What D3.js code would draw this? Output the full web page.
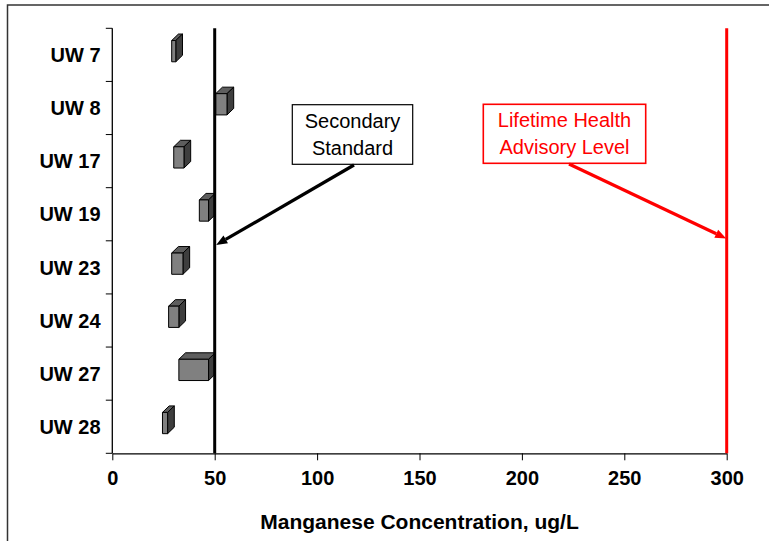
<!DOCTYPE html>
<html>
<head>
<meta charset="utf-8">
<script src="https://cdn.jsdelivr.net/npm/d3@7"></script>
<style>
  html, body { margin: 0; padding: 0; background: #fff; }
  svg { display: block; font-family: "Liberation Sans", Arial, Helvetica, sans-serif; }
</style>
</head>
<body>
<svg id="chart" width="769" height="541"></svg>
<script>
// ---- data ----
const categories = ["UW 7", "UW 8", "UW 17", "UW 19", "UW 23", "UW 24", "UW 27", "UW 28"];
const minValues  = [29, 50.5, 30, 42.5, 29, 27.5, 32.5, 24.5];
const maxValues  = [31, 56, 35, 47, 34.5, 32.5, 47, 27];
const xTicks     = [0, 50, 100, 150, 200, 250, 300];
const refValues  = [50, 300];
const refLabels  = [["Secondary", "Standard"], ["Lifetime Health", "Advisory Level"]];
const xTitle     = "Manganese Concentration, ug/L";

// ---- layout ----
const svg = d3.select("#chart");
const plot = { left: 112.3, right: 726.7, top: 28.3, bottom: 453.3 };
const x = d3.scaleLinear().domain([0, 300]).range([plot.left, plot.right]);
const y = d3.scaleBand().domain(categories).range([plot.top, plot.bottom]);

// outer frame
svg.append("rect").attr("x", 7.5).attr("y", 5).attr("width", 900).attr("height", 900)
  .attr("fill", "none").attr("stroke", "#333").attr("stroke-width", 1.5);

// x axis
const xAxis = svg.append("g").attr("transform", `translate(0,${plot.bottom})`)
  .call(d3.axisBottom(x).tickValues(xTicks).tickSize(7).tickSizeOuter(0).tickPadding(11));
xAxis.select(".domain").attr("stroke", "#000").attr("stroke-width", 1.3);
xAxis.selectAll(".tick line").attr("stroke", "#000").attr("stroke-width", 1);
xAxis.selectAll(".tick text").attr("font-size", 20).attr("font-weight", "bold")
  .attr("fill", "#000").attr("font-family", "Liberation Sans, Arial, sans-serif");

// y axis: line + ticks at category boundaries + labels
const yG = svg.append("g");
yG.append("line").attr("x1", plot.left).attr("x2", plot.left)
  .attr("y1", plot.top).attr("y2", plot.bottom).attr("stroke", "#000").attr("stroke-width", 1.3);
const boundaries = categories.map(c => y(c)).concat([y.range()[1]]);
yG.selectAll("line.tk").data(boundaries).join("line").attr("class", "tk")
  .attr("x1", plot.left - 6.5).attr("x2", plot.left)
  .attr("y1", d => d).attr("y2", d => d).attr("stroke", "#000").attr("stroke-width", 1);
yG.selectAll("text").data(categories).join("text")
  .attr("x", 100.5).attr("y", d => y(d) + y.bandwidth() / 2)
  .attr("dy", "0.36em").attr("text-anchor", "end")
  .attr("font-size", 20).attr("font-weight", "bold").attr("fill", "#000")
  .text(d => d);

// x title
svg.append("text").attr("x", (plot.left + plot.right) / 2).attr("y", 529)
  .attr("text-anchor", "middle").attr("font-size", 21).attr("font-weight", "bold")
  .attr("fill", "#000").text(xTitle);

// ---- 3D floating bars ----
const dx = 6.7, dy = 6.5;
const h = y.bandwidth() * 0.4;
const bars = svg.append("g");
categories.forEach((c, i) => {
  const x0 = x(minValues[i]), x1 = x(maxValues[i]);
  const y0 = y(c) + y.bandwidth() / 2 - 3.7 - h / 2;
  const g = bars.append("g").attr("stroke", "#000").attr("stroke-width", 1).attr("stroke-linejoin", "round");
  g.append("polygon").attr("fill", "#5e5e5e")
    .attr("points", [[x0, y0], [x0 + dx, y0 - dy], [x1 + dx, y0 - dy], [x1, y0]].join(" "));
  g.append("polygon").attr("fill", "#3e3e3e")
    .attr("points", [[x1, y0], [x1 + dx, y0 - dy], [x1 + dx, y0 - dy + h], [x1, y0 + h]].join(" "));
  g.append("rect").attr("fill", "#808080")
    .attr("x", x0).attr("y", y0).attr("width", x1 - x0).attr("height", h);
});

// ---- reference lines ----
const refColors = ["#000", "#ff0000"];
refValues.forEach((v, i) => {
  svg.append("line").attr("x1", x(v)).attr("x2", x(v))
    .attr("y1", plot.top).attr("y2", plot.bottom)
    .attr("stroke", refColors[i]).attr("stroke-width", 3);
});

// ---- annotations ----
function arrow(x1, y1, x2, y2, color) {
  const ang = Math.atan2(y2 - y1, x2 - x1);
  const L = 11, W = 4.5;
  const bx = x2 - L * Math.cos(ang), by = y2 - L * Math.sin(ang);
  svg.append("line").attr("x1", x1).attr("y1", y1).attr("x2", bx).attr("y2", by)
    .attr("stroke", color).attr("stroke-width", 3.2);
  svg.append("polygon").attr("fill", color)
    .attr("points", [[x2, y2],
      [bx + W * Math.sin(ang), by - W * Math.cos(ang)],
      [bx - W * Math.sin(ang), by + W * Math.cos(ang)]].join(" "));
}
const boxes = [
  { x: 292.3, y: 104.7, w: 120.4, h: 59.6, tail: [354, 165], tip: [x(refValues[0]) + 1.5, 245] },
  { x: 483.3, y: 104.3, w: 162.4, h: 59, tail: [569, 164], tip: [x(refValues[1]) - 0.5, 238.5] }
];
boxes.forEach((b, i) => {
  svg.append("rect").attr("x", b.x).attr("y", b.y).attr("width", b.w).attr("height", b.h)
    .attr("fill", "#fff").attr("stroke", refColors[i]).attr("stroke-width", i === 0 ? 1.2 : 1.6);
  refLabels[i].forEach((t, j) => {
    svg.append("text").attr("x", b.x + b.w / 2).attr("y", b.y + 23 + j * 27)
      .attr("text-anchor", "middle").attr("font-size", 20).attr("fill", refColors[i]).text(t);
  });
  arrow(b.tail[0], b.tail[1], b.tip[0], b.tip[1], refColors[i]);
});
</script>
</body>
</html>
